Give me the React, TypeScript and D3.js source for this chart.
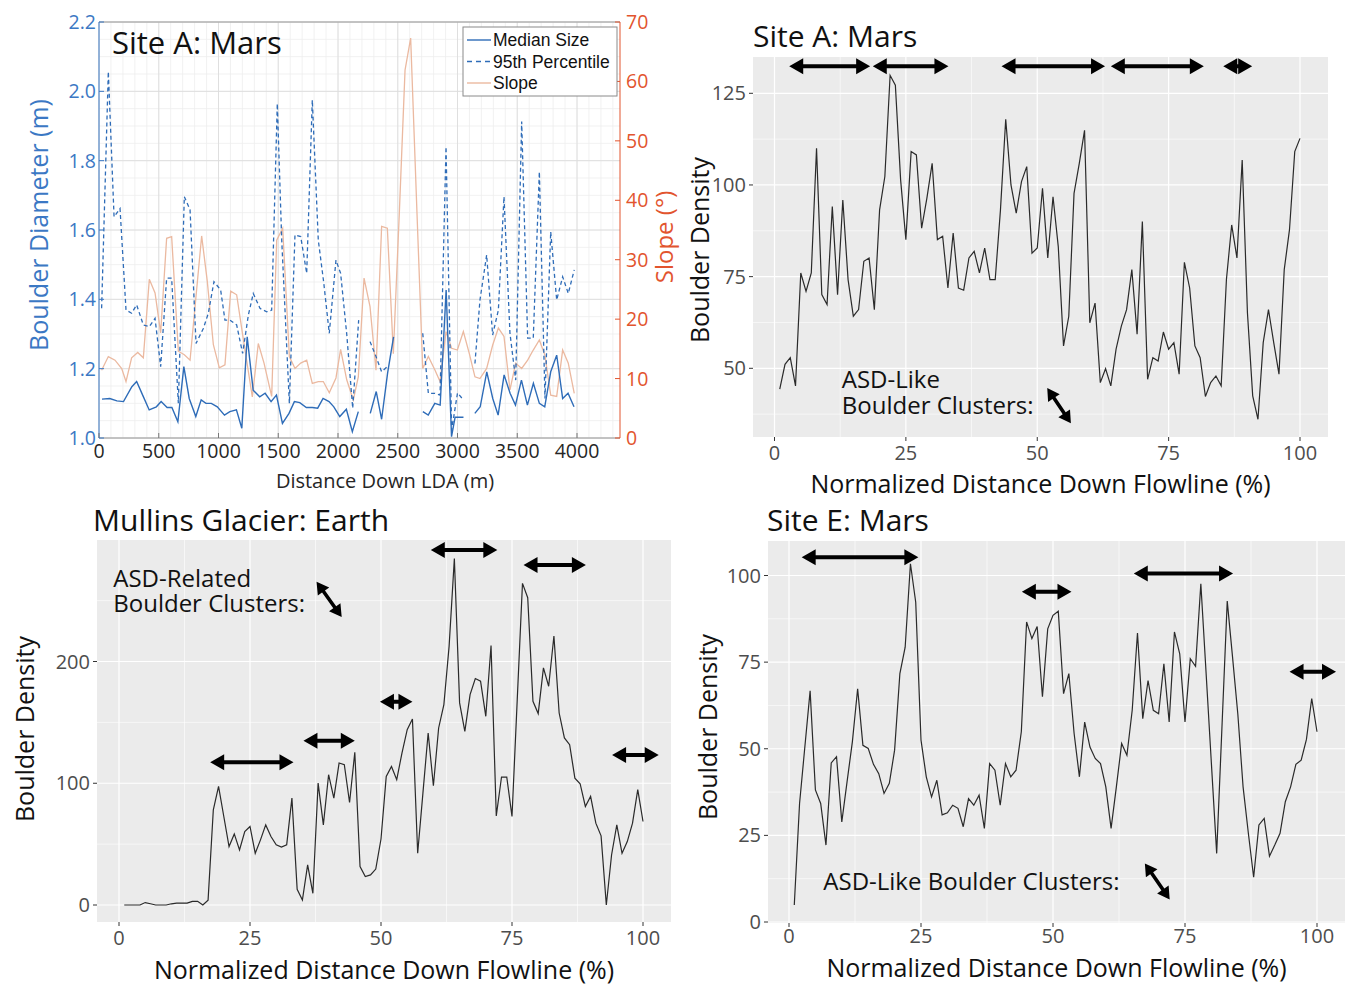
import React from "react";
import * as d3 from "d3";

// ---------- Site A: Mars, boulder size vs slope along the LDA ----------
const medianDist = [25, 90, 150, 205, 275, 315, 370, 420, 480, 520, 570, 610, 660, 710, 755, 810, 855, 895, 940, 990, 1050, 1095, 1150, 1195, 1240, 1290, 1345, 1390, 1440, 1485, 1535, 1590, 1635, 1680, 1735, 1785, 1830, 1875, 1925, 1965, 2015, 2070, 2120, 2170, 2220, 2270, 2320, 2365, 2415, 2465, 2560, 2710, 2755, 2810, 2855, 2905, 2950, 2980, 3005, 3050, 3100, 3145, 3190, 3245, 3295, 3340, 3390, 3440, 3485, 3535, 3585, 3635, 3685, 3730, 3780, 3830, 3880, 3925, 3975];
const medianSize = [1.112, 1.114, 1.107, 1.105, 1.148, 1.163, 1.12, 1.081, 1.09, 1.105, 1.088, 1.088, 1.047, 1.206, 1.114, 1.062, 1.11, 1.1, 1.1, 1.09, 1.066, 1.076, 1.081, 1.028, 1.292, 1.138, 1.119, 1.129, 1.105, 1.124, 1.042, 1.071, 1.105, 1.102, 1.088, 1.088, 1.086, 1.114, 1.105, 1.09, 1.062, 1.083, 1.018, 1.076, null, 1.071, 1.134, 1.054, 1.187, 1.292, null, 1.076, 1.066, 1.1, 1.095, 1.427, 1.004, 1.06, 1.06, 1.06, null, 1.071, 1.09, 1.191, 1.114, 1.066, 1.182, 1.129, 1.095, 1.167, 1.095, 1.158, 1.1, 1.09, 1.191, 1.239, 1.114, 1.129, 1.09];

const p95Dist = [22, 78, 126, 176, 226, 273, 315, 371, 421, 469, 516, 566, 608, 664, 714, 762, 812, 873, 915, 962, 1018, 1054, 1096, 1152, 1202, 1250, 1291, 1347, 1403, 1445, 1492, 1529, 1593, 1640, 1688, 1738, 1785, 1835, 1880, 1927, 1983, 2022, 2073, 2123, 2173, 2220, 2268, 2318, 2365, 2413, 2560, 2709, 2756, 2812, 2854, 2904, 2951, 3000, 3049, 3100, 3146, 3188, 3244, 3294, 3342, 3389, 3439, 3487, 3537, 3587, 3634, 3685, 3732, 3780, 3830, 3880, 3927, 3977];
const p95Size = [1.374, 2.057, 1.638, 1.662, 1.369, 1.36, 1.384, 1.326, 1.321, 1.345, 1.206, 1.461, 1.461, 1.1, 1.696, 1.658, 1.273, 1.316, 1.36, 1.451, 1.427, 1.34, 1.34, 1.326, 1.244, 1.355, 1.417, 1.374, 1.364, 1.369, 1.965, 1.571, 1.1, 1.586, 1.581, 1.475, 1.975, 1.571, 1.45, 1.302, 1.513, 1.475, 1.3, 1.086, 1.34, null, 1.278, 1.235, 1.191, 1.206, null, 1.302, 1.129, 1.129, 1.124, 1.84, 1.023, 1.13, 1.11, null, 1.215, 1.398, 1.528, 1.297, 1.369, 1.696, 1.302, 1.167, 1.913, 1.288, 1.288, 1.768, 1.114, 1.595, 1.398, 1.465, 1.417, 1.485];

const slopeDist = [22, 78, 134, 190, 226, 273, 324, 371, 421, 469, 516, 566, 608, 664, 714, 762, 859, 906, 957, 1007, 1054, 1102, 1152, 1202, 1283, 1333, 1381, 1445, 1487, 1537, 1593, 1640, 1688, 1738, 1785, 1835, 1877, 1927, 1983, 2022, 2073, 2128, 2170, 2218, 2268, 2318, 2365, 2413, 2463, 2513, 2561, 2608, 2659, 2709, 2756, 2812, 2854, 2904, 2951, 2999, 3049, 3099, 3146, 3188, 3244, 3294, 3342, 3389, 3439, 3487, 3537, 3587, 3634, 3685, 3732, 3780, 3830, 3880, 3927, 3977];
const slopeDeg = [11.4, 13.7, 13.1, 11.7, 9.5, 13.5, 14.4, 13.5, 26.7, 24.4, 17.7, 33.6, 33.9, 14.6, 14.0, 13.1, 34.0, 26.4, 15.7, 11.8, 12.3, 24.7, 24.1, 17.4, 6.9, 15.9, 12.6, 7.0, 33.3, 35.3, 13.7, 11.7, 12.6, 13.1, 9.2, 9.5, 9.5, 7.6, 10.1, 14.9, 9.8, 6.4, 10.3, 26.9, 22.1, 11.4, 35.6, 35.3, 14.2, 37.8, 61.9, 67.3, 38.9, 11.7, 13.7, 11.4, 9.5, 17.9, 15.1, 14.8, 17.9, 14.2, 10.3, 10.0, 11.7, 15.6, 18.5, 17.1, 8.1, 12.6, 11.7, 13.1, 14.8, 16.5, 13.9, 7.2, 7.0, 14.8, 12.6, 7.5];

const ldaXTicks = [0, 500, 1000, 1500, 2000, 2500, 3000, 3500, 4000];
const diameterTicks = [1.0, 1.2, 1.4, 1.6, 1.8, 2.0, 2.2];
const slopeTicks = [0, 10, 20, 30, 40, 50, 60, 70];

// ---------- Boulder density, normalized distance 1..100 % ----------
const siteADensity = [44.3, 51.1, 52.9, 45.2, 76.0, 71.0, 76.0, 110.0, 70.1, 67.4, 94.1, 70.1, 95.9, 74.2, 64.2, 66.0, 79.2, 80.1, 66.0, 93.2, 102.3, 129.9, 127.2, 101.4, 85.1, 109.1, 108.2, 88.2, 96.4, 105.9, 85.1, 86.0, 71.9, 86.9, 71.9, 71.3, 80.1, 81.9, 76.0, 82.8, 74.2, 74.2, 93.2, 117.9, 100.0, 92.3, 100.9, 105.0, 81.4, 82.8, 99.1, 80.1, 96.8, 83.2, 56.1, 64.2, 97.7, 105.9, 114.9, 62.4, 67.8, 46.1, 49.9, 45.2, 55.2, 61.5, 66.0, 76.9, 59.3, 90.0, 47.0, 52.9, 52.0, 59.9, 55.2, 57.0, 48.4, 78.9, 71.9, 56.1, 52.9, 42.3, 46.1, 47.9, 45.2, 74.2, 89.1, 80.1, 106.8, 65.1, 42.5, 36.1, 57.0, 66.0, 57.0, 48.4, 76.9, 87.8, 109.1, 112.7];

const mullinsDensity = [0, 0, 0, 0, 2, 1, 0, 0, 0, 1, 1.5, 1.5, 1.5, 3, 3, 0, 4, 78.2, 97.4, 72.7, 48.0, 58.4, 45.3, 60.3, 64.5, 42.5, 53.5, 65.8, 56.2, 49.4, 47.5, 49.4, 87.8, 12.9, 4.1, 32.9, 9.6, 100.1, 65.8, 107.0, 87.8, 116.6, 115.2, 84.2, 125.4, 31.5, 23.3, 24.7, 29.5, 54.2, 105.6, 113.8, 102.9, 124.8, 144.0, 152.8, 42.5, 91.9, 141.3, 97.9, 145.4, 164.6, 212.6, 284.5, 166.0, 142.6, 172.8, 186.0, 183.8, 155.0, 213.2, 73.2, 105.1, 105.1, 72.7, 168.7, 264.2, 252.4, 167.3, 157.2, 194.8, 179.7, 220.9, 157.7, 137.2, 131.7, 104.2, 99.6, 80.9, 89.2, 67.2, 56.8, 0, 41.1, 65.8, 42.5, 52.1, 67.2, 94.7, 68.6];

const siteEDensity = [4.9, 34.2, 50.5, 66.7, 38.1, 34.2, 22.2, 45.9, 47.7, 28.9, 40.5, 52.0, 67.3, 51.0, 50.1, 45.5, 42.8, 37.1, 40.0, 49.6, 71.7, 79.3, 103.4, 92.3, 52.5, 41.9, 36.1, 40.9, 30.9, 31.5, 33.7, 32.8, 27.5, 35.6, 33.7, 36.6, 27.0, 45.7, 43.8, 33.7, 45.7, 41.9, 43.8, 54.9, 86.6, 81.8, 85.3, 65.0, 84.6, 88.5, 89.7, 65.9, 71.7, 54.4, 41.9, 57.7, 50.5, 47.2, 45.7, 39.0, 27.0, 39.0, 51.5, 48.1, 61.1, 83.4, 58.7, 69.7, 61.1, 60.1, 74.5, 57.7, 83.7, 77.4, 57.7, 76.0, 73.8, 97.6, 71.7, 45.7, 19.8, 56.3, 92.6, 76.5, 60.1, 39.0, 25.6, 12.9, 28.0, 29.9, 19.0, 22.2, 25.6, 34.7, 39.0, 45.5, 46.7, 52.7, 64.5, 54.9];

// cluster arrows: start %, end %, density level
const siteAFrom = [2.8, 18.7, 43.2, 64.0, 85.4];
const siteATo = [18.2, 33.1, 62.9, 81.7, 90.9];
const siteALevel = [132.4, 132.4, 132.4, 132.4, 132.4];
const mullinsFrom = [17.4, 35.2, 49.8, 59.5, 77.2, 94.1];
const mullinsTo = [33.3, 45.0, 56.0, 72.2, 89.1, 103.0];
const mullinsLevel = [117.2, 135.0, 167.0, 291.6, 279.3, 123.2];
const siteEFrom = [2.4, 44.1, 65.3, 94.8];
const siteETo = [24.5, 53.5, 84.1, 103.6];
const siteELevel = [105.3, 95.3, 100.6, 72.2];

const FONT = "'Open Sans', sans-serif";
const BLUE = "#3b78c4";
const LINEBLUE = "#2e6cb8";
const RED = "#e2542e";
const PEACH = "#ebb9a0";

function arrowPath(x1: number, y1: number, x2: number, y2: number, hl: number, hw: number, t: number) {
  const dx = x2 - x1, dy = y2 - y1;
  const len = Math.hypot(dx, dy);
  const ux = dx / len, uy = dy / len, nx = -uy, ny = ux;
  const h = Math.min(hl, len / 2);
  const p = (a: number, b: number) => `${x1 + ux * a + nx * b},${y1 + uy * a + ny * b}`;
  const pts = [p(0, 0), p(h, -hw), p(h, -t / 2), p(len - h, -t / 2), p(len - h, -hw), p(len, 0), p(len - h, hw), p(len - h, t / 2), p(h, t / 2), p(h, hw)];
  return "M" + pts.join("L") + "Z";
}

function LdaPanel() {
  const left = 99, right = 620, top = 22, bottom = 438;
  const x = d3.scaleLinear().domain([0, 4000]).range([left, 577]);
  const yL = d3.scaleLinear().domain([1.0, 2.2]).range([bottom, top]);
  const yR = d3.scaleLinear().domain([0, 70]).range([bottom, top]);

  const path = (xs: number[], ys: (number | null)[], y: d3.ScaleLinear<number, number>) =>
    d3.line<number>()
      .defined((i) => ys[i] != null)
      .x((i) => x(xs[i]))
      .y((i) => y(ys[i] as number))(xs.map((_, i) => i)) || "";

  const xMinor = d3.range(0, 4400, 100).filter((v) => x(v) < right);
  const yMinor = d3.range(1.0, 2.2001, 0.05);

  return (
    <g fontFamily={FONT}>
      <rect x={left} y={top} width={right - left} height={bottom - top} fill="#fff" />
      {xMinor.map((v) => (
        <line key={"xm" + v} x1={x(v)} x2={x(v)} y1={top} y2={bottom} stroke="#eeeeee" strokeWidth={0.8} />
      ))}
      {yMinor.map((v) => (
        <line key={"ym" + v} x1={left} x2={right} y1={yL(v)} y2={yL(v)} stroke="#eeeeee" strokeWidth={0.8} />
      ))}
      {ldaXTicks.map((v) => (
        <line key={"xg" + v} x1={x(v)} x2={x(v)} y1={top} y2={bottom} stroke="#dcdcdc" strokeWidth={0.9} />
      ))}
      {diameterTicks.map((v) => (
        <line key={"yg" + v} x1={left} x2={right} y1={yL(v)} y2={yL(v)} stroke="#dcdcdc" strokeWidth={0.9} />
      ))}

      <path d={path(slopeDist, slopeDeg, yR)} fill="none" stroke={PEACH} strokeWidth={1.3} />
      <path d={path(p95Dist, p95Size, yL)} fill="none" stroke={LINEBLUE} strokeWidth={1.3} strokeDasharray="4,3" />
      <path d={path(medianDist, medianSize, yL)} fill="none" stroke={LINEBLUE} strokeWidth={1.4} />

      <line x1={left} x2={right} y1={top} y2={top} stroke="#9a9a9a" />
      <line x1={left} x2={right} y1={bottom} y2={bottom} stroke="#9a9a9a" />
      <line x1={left} x2={left} y1={top} y2={bottom} stroke={BLUE} />
      <line x1={right} x2={right} y1={top} y2={bottom} stroke={RED} />

      {ldaXTicks.map((v) => (
        <g key={"xt" + v}>
          <line x1={x(v)} x2={x(v)} y1={bottom} y2={bottom - 5} stroke="#777" />
          <text x={x(v)} y={458} textAnchor="middle" fontSize={19.5} fill="#262626">{v}</text>
        </g>
      ))}
      {diameterTicks.map((v) => (
        <g key={"lt" + v}>
          <line x1={left} x2={left + 5} y1={yL(v)} y2={yL(v)} stroke={BLUE} />
          <text x={96} y={yL(v) + 7} textAnchor="end" fontSize={19.5} fill={BLUE}>{v.toFixed(1)}</text>
        </g>
      ))}
      {slopeTicks.map((v) => (
        <g key={"rt" + v}>
          <line x1={right} x2={right - 5} y1={yR(v)} y2={yR(v)} stroke={RED} />
          <text x={626} y={yR(v) + 7} textAnchor="start" fontSize={19.5} fill={RED}>{v}</text>
        </g>
      ))}

      <text x={112} y={54} fontSize={31} fill="#111">Site A: Mars</text>

      <g fontFamily="'Liberation Sans', Arial, sans-serif" fontSize={17.5} fill="#111">
        <rect x={463} y={27} width={154} height={69} fill="#fff" stroke="#8a8a8a" />
        <line x1={467} x2={491} y1={40} y2={40} stroke={LINEBLUE} strokeWidth={1.4} />
        <text x={493} y={46}>Median Size</text>
        <line x1={467} x2={491} y1={61.5} y2={61.5} stroke={LINEBLUE} strokeWidth={1.4} strokeDasharray="5,4" />
        <text x={493} y={67.5}>95th Percentile</text>
        <line x1={467} x2={491} y1={83} y2={83} stroke={PEACH} strokeWidth={1.4} />
        <text x={493} y={89}>Slope</text>
      </g>

      <text transform="translate(48,225) rotate(-90)" textAnchor="middle" fontSize={25} fill={BLUE}>Boulder Diameter (m)</text>
      <text transform="translate(673,237) rotate(-90)" textAnchor="middle" fontSize={24} fill={RED}>Slope (°)</text>
      <text x={385} y={488} textAnchor="middle" fontSize={20} fill="#262626">Distance Down LDA (m)</text>
    </g>
  );
}

type PanelProps = {
  id: string;
  values: number[];
  xPx: [number, number];
  yRef: [number, number];
  yRefPx: [number, number];
  box: [number, number, number, number];
  yTicks: number[];
  yMinor: number[];
  title: string;
  titleAt: [number, number];
  from: number[];
  to: number[];
  level: number[];
  diag: [number, number, number, number];
  note: string[];
  noteAt: [number, number];
  yLabelAt: [number, number];
  xLabelY: number;
  xTickY: number;
};

function DensityPanel(p: PanelProps) {
  const [l, t, r, b] = p.box;
  const x = d3.scaleLinear().domain([0, 100]).range(p.xPx);
  const y = d3.scaleLinear().domain(p.yRef).range(p.yRefPx);
  const pts = p.values.map((v, i) => [i + 1, v] as [number, number]);
  const line = d3.line<[number, number]>().x((d) => x(d[0])).y((d) => y(d[1]))(pts) || "";
  const xTicks = [0, 25, 50, 75, 100];
  const xMinor = [12.5, 37.5, 62.5, 87.5];
  const inY = (v: number) => y(v) > t && y(v) < b;

  return (
    <g fontFamily={FONT}>
      <defs>
        <clipPath id={p.id}>
          <rect x={l} y={t} width={r - l} height={b - t} />
        </clipPath>
      </defs>
      <rect x={l} y={t} width={r - l} height={b - t} fill="#ebebeb" />
      {p.yMinor.filter(inY).map((v) => (
        <line key={"ym" + v} x1={l} x2={r} y1={y(v)} y2={y(v)} stroke="#fff" strokeWidth={0.6} />
      ))}
      {xMinor.map((v) => (
        <line key={"xm" + v} x1={x(v)} x2={x(v)} y1={t} y2={b} stroke="#fff" strokeWidth={0.6} />
      ))}
      {p.yTicks.map((v) => (
        <line key={"yg" + v} x1={l} x2={r} y1={y(v)} y2={y(v)} stroke="#fff" strokeWidth={1.2} />
      ))}
      {xTicks.map((v) => (
        <line key={"xg" + v} x1={x(v)} x2={x(v)} y1={t} y2={b} stroke="#fff" strokeWidth={1.2} />
      ))}

      <path d={line} fill="none" stroke="#2a2a2a" strokeWidth={1.2} clipPath={`url(#${p.id})`} />

      {p.from.map((f, i) => (
        <path key={"ar" + i} d={arrowPath(x(f), y(p.level[i]), x(p.to[i]), y(p.level[i]), 14, 8, 4)} fill="#000" />
      ))}
      <path d={arrowPath(x(p.diag[0]), y(p.diag[1]), x(p.diag[2]), y(p.diag[3]), 12, 7, 3.6)} fill="#000" />

      <text x={x(p.noteAt[0])} y={y(p.noteAt[1])} fontSize={24} fill="#111">
        {p.note.map((s, i) => (
          <tspan key={"n" + i} x={x(p.noteAt[0])} dy={i === 0 ? 0 : 25.5}>{s}</tspan>
        ))}
      </text>

      {p.yTicks.map((v) => (
        <g key={"yt" + v}>
          <line x1={l - 4} x2={l} y1={y(v)} y2={y(v)} stroke="#333" />
          <text x={l - 7} y={y(v) + 7} textAnchor="end" fontSize={20} fill="#4d4d4d">{v}</text>
        </g>
      ))}
      {xTicks.map((v) => (
        <g key={"xt" + v}>
          <line x1={x(v)} x2={x(v)} y1={b} y2={b + 4} stroke="#333" />
          <text x={x(v)} y={p.xTickY} textAnchor="middle" fontSize={20} fill="#4d4d4d">{v}</text>
        </g>
      ))}

      <text x={p.titleAt[0]} y={p.titleAt[1]} fontSize={30} fill="#111">{p.title}</text>
      <text transform={`translate(${p.yLabelAt[0]},${p.yLabelAt[1]}) rotate(-90)`} textAnchor="middle" fontSize={25} fill="#111">Boulder Density</text>
      <text x={(l + r) / 2} y={p.xLabelY} textAnchor="middle" fontSize={25} fill="#111">Normalized Distance Down Flowline (%)</text>
    </g>
  );
}

export default function App() {
  return (
    <svg width={1347} height={988} style={{ position: "absolute", left: 0, top: 0, background: "#fff" }}>
      <LdaPanel />
      <DensityPanel
        id="clipA"
        values={siteADensity}
        xPx={[774.5, 1300]}
        yRef={[50, 125]}
        yRefPx={[368.3, 93.3]}
        box={[753, 57, 1328, 437]}
        yTicks={[50, 75, 100, 125]}
        yMinor={[37.5, 62.5, 87.5, 112.5]}
        title="Site A: Mars"
        titleAt={[753, 47]}
        from={siteAFrom}
        to={siteATo}
        level={siteALevel}
        diag={[51.9, 44.6, 56.4, 35.0]}
        note={["ASD-Like", "Boulder Clusters:"]}
        noteAt={[12.8, 44.6]}
        yLabelAt={[709, 250]}
        xLabelY={493}
        xTickY={460}
      />
      <DensityPanel
        id="clipM"
        values={mullinsDensity}
        xPx={[119, 643]}
        yRef={[0, 200]}
        yRefPx={[905, 661.5]}
        box={[97, 540, 671, 922]}
        yTicks={[0, 100, 200]}
        yMinor={[50, 150, 250]}
        title="Mullins Glacier: Earth"
        titleAt={[93, 531]}
        from={mullinsFrom}
        to={mullinsTo}
        level={mullinsLevel}
        diag={[37.7, 265.5, 42.5, 236.5]}
        note={["ASD-Related", "Boulder Clusters:"]}
        noteAt={[-1.1, 261.4]}
        yLabelAt={[34, 729]}
        xLabelY={979}
        xTickY={945}
      />
      <DensityPanel
        id="clipE"
        values={siteEDensity}
        xPx={[789, 1317]}
        yRef={[0, 100]}
        yRefPx={[922, 575.5]}
        box={[768, 541, 1345, 923]}
        yTicks={[0, 25, 50, 75, 100]}
        yMinor={[12.5, 37.5, 62.5, 87.5]}
        title="Site E: Mars"
        titleAt={[767, 531]}
        from={siteEFrom}
        to={siteETo}
        level={siteELevel}
        diag={[67.4, 16.9, 72.1, 6.5]}
        note={["ASD-Like Boulder Clusters:"]}
        noteAt={[6.5, 9.2]}
        yLabelAt={[717, 727]}
        xLabelY={977}
        xTickY={943}
      />
    </svg>
  );
}
